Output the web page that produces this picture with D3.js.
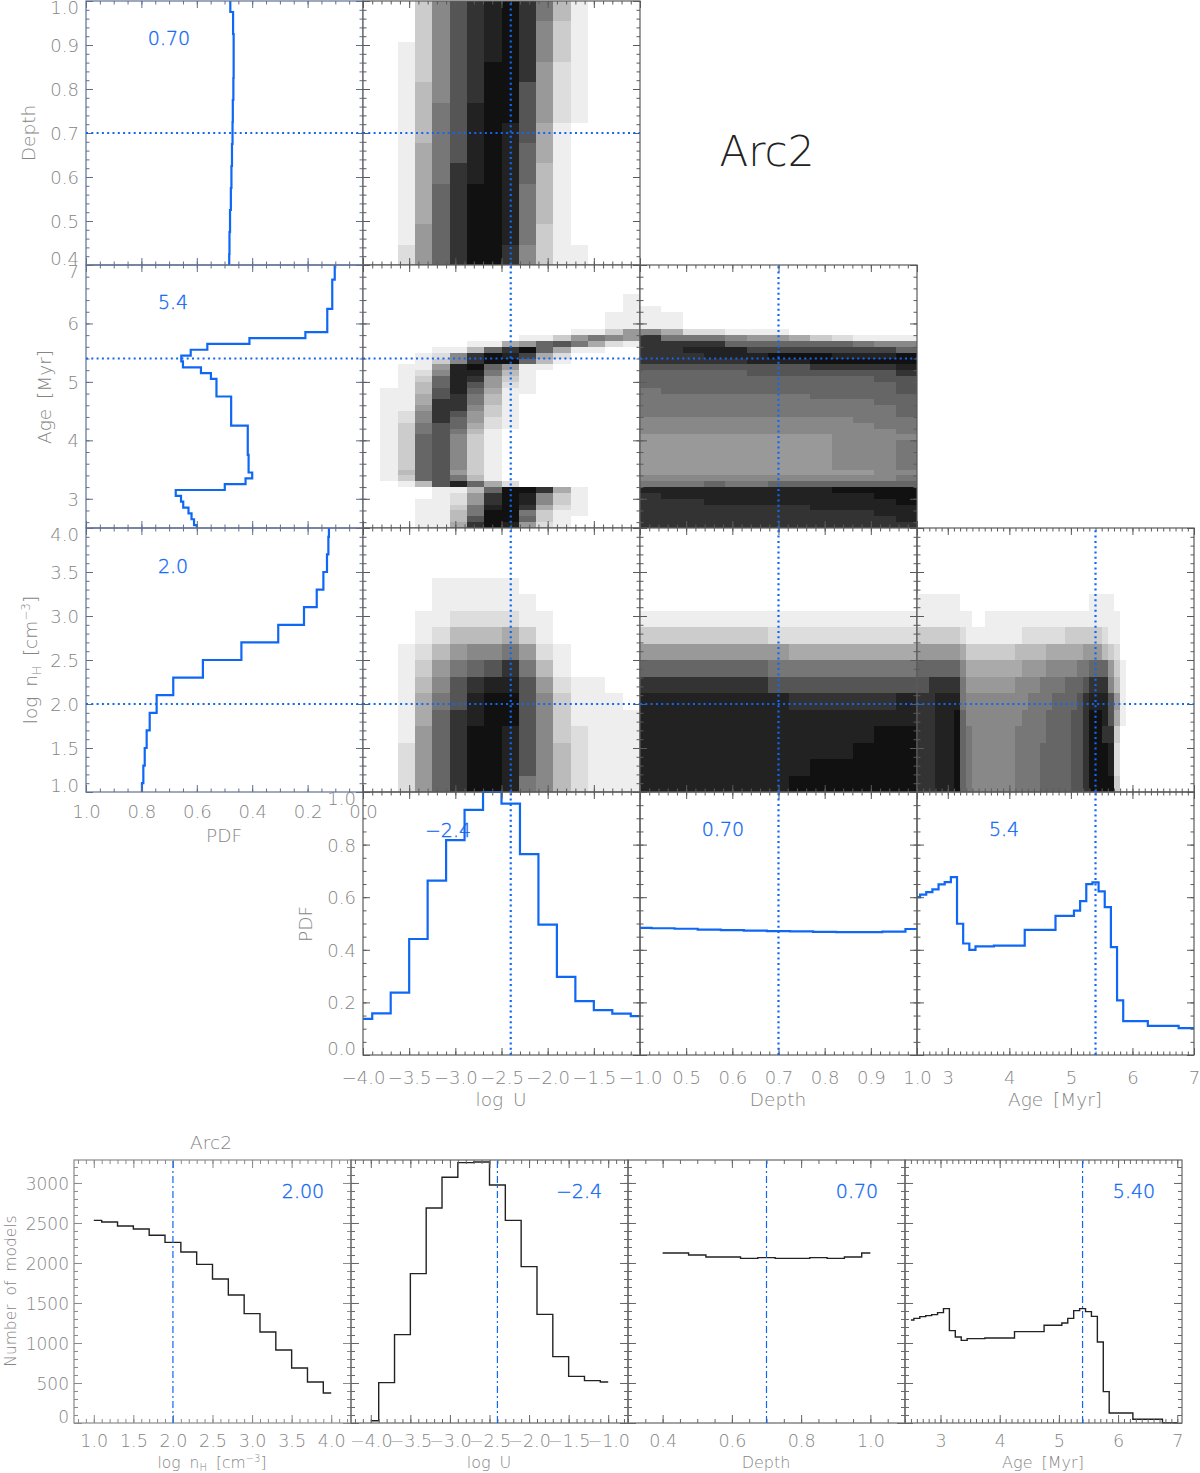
<!DOCTYPE html>
<html><head><meta charset="utf-8">
<script src="https://cdn.jsdelivr.net/npm/d3@7/dist/d3.min.js"></script>
<style>html,body{margin:0;background:#fff}svg{display:block}text{font-family:"DejaVu Sans",sans-serif;font-weight:200}</style>
</head><body><svg id="c" width="1200" height="1473"></svg>
<script>
// ---------- 1D grids ----------
const nHGrid=[1,1.2,1.4,1.6,1.8,2,2.2,2.4,2.6,2.8,3,3.2,3.4,3.6,3.8,4];
const logUGrid=[-4,-3.8,-3.6,-3.4,-3.2,-3,-2.8,-2.6,-2.4,-2.2,-2,-1.8,-1.6,-1.4,-1.2,-1];
const depthGrid=[.4,.45,.5,.55,.6,.65,.7,.75,.8,.85,.9,.95,1];
const ageGrid=[2.5,2.6,2.7,2.8,2.9,3,3.1,3.2,3.3,3.4,3.5,4,4.5,5,5.1,5.2,5.3,5.4,5.5,5.6,5.7,5.8,5.9,6,6.5,7];
// ---------- marginal PDFs ----------
const pdfNH=[.798,.793,.788,.781,.770,.745,.685,.578,.439,.306,.213,.167,.143,.130,.125,.123];
const pdfU=[.137,.158,.237,.441,.663,.817,.932,1,.956,.764,.496,.297,.205,.171,.157,.148];
const pdfDepth=[.483,.482,.480,.477,.475,.473,.471,.470,.468,.467,.467,.469,.479];
const pdfAge=[.600,.610,.619,.630,.649,.657,.676,.499,.424,.400,.413,.416,.476,.529,.549,.585,.650,.656,.622,.562,.410,.208,.129,.129,.111,.102];
// ---------- model counts ----------
const countNH=[2533,2512,2462,2425,2346,2258,2137,1983,1800,1600,1367,1137,912,687,512,375];
const countU=[29,504,1104,1867,2687,3071,3254,3262,2975,2533,1954,1358,829,583,529,512];
const countDepth=[2125,2125,2100,2075,2075,2058,2067,2058,2058,2067,2058,2075,2125];
const countAge=[1287,1308,1329,1342,1354,1379,1429,1154,1075,1033,1054,1062,1142,1221,1250,1308,1404,1429,1392,1333,1012,392,125,125,46,4];
// ---------- best values ----------
const bestNH=2.0, bestU=-2.4, bestDepth=0.7, bestAge=5.4;
// ---------- joint PDFs, levels 0 (white) to 14 (darkest); first row = top of the panel ----------
const depthLogU=[
[0,0,0,3,7,10,12,13,14,12,8,4,1,0,0,0],
[0,0,0,3,7,10,12,13,14,12,7,3,1,0,0,0],
[0,0,1,3,7,10,12,13,14,12,7,3,1,0,0,0],
[0,0,1,3,7,10,12,14,14,12,6,2,1,0,0,0],
[0,0,1,4,7,10,12,14,14,10,6,2,1,0,0,0],
[0,0,1,4,8,10,13,14,14,10,6,2,1,0,0,0],
[0,0,1,4,8,10,13,14,13,10,5,1,0,0,0,0],
[0,0,1,5,8,10,13,14,13,9,5,1,0,0,0,0],
[0,0,1,5,8,12,13,14,13,9,4,1,0,0,0,0],
[0,0,1,5,9,12,14,14,13,8,4,1,0,0,0,0],
[0,0,1,5,9,12,14,14,13,8,4,1,0,0,0,0],
[0,0,1,6,9,12,14,14,13,8,3,1,0,0,0,0],
[0,0,2,6,9,12,14,14,12,7,3,1,1,0,0,0]];
const ageLogU=[
[0,0,0,0,0,0,0,0,0,0,0,0,0,0,0,0],
[0,0,0,0,0,0,0,0,0,0,0,0,0,0,0,0],
[0,0,0,0,0,0,0,0,0,0,0,0,0,0,0,0],
[0,0,0,0,0,0,0,0,0,0,0,0,0,0,0,0],
[0,0,0,0,0,0,0,0,0,0,0,0,0,0,0,0],
[0,0,0,0,0,0,0,0,0,0,0,0,0,0,0,1],
[0,0,0,0,0,0,0,0,0,0,0,0,0,0,0,1],
[0,0,0,0,0,0,0,0,0,0,0,0,0,0,0,1],
[0,0,0,0,0,0,0,0,0,0,0,0,0,0,1,1],
[0,0,0,0,0,0,0,0,0,0,0,0,0,0,1,1],
[0,0,0,0,0,0,0,0,0,0,0,0,0,0,1,1],
[0,0,0,0,0,0,0,0,0,0,0,0,1,1,3,6],
[0,0,0,0,0,0,0,0,0,1,1,3,6,8,7,6],
[0,0,0,0,0,0,1,1,5,6,9,10,8,5,2,1],
[0,0,0,0,1,1,4,9,12,14,9,5,1,1,0,0],
[0,0,0,1,2,7,12,14,13,11,5,2,0,0,0,0],
[0,0,0,1,3,7,12,14,14,9,4,1,0,0,0,0],
[0,0,1,1,6,13,14,9,6,1,1,0,0,0,0,0],
[0,0,1,2,7,13,13,8,4,1,0,0,0,0,0,0],
[0,0,1,3,9,13,12,6,3,1,0,0,0,0,0,0],
[0,0,1,4,9,13,10,6,2,1,0,0,0,0,0,0],
[0,1,1,4,10,13,9,5,1,1,0,0,0,0,0,0],
[0,1,1,5,10,12,8,4,1,0,0,0,0,0,0,0],
[0,1,1,5,12,12,8,4,1,0,0,0,0,0,0,0],
[0,1,1,6,12,12,7,3,1,0,0,0,0,0,0,0],
[0,1,2,7,12,10,6,3,1,0,0,0,0,0,0,0],
[0,1,2,7,12,9,6,2,1,0,0,0,0,0,0,0],
[0,1,3,8,10,9,5,2,1,0,0,0,0,0,0,0],
[0,1,3,8,10,8,4,1,0,0,0,0,0,0,0,0],
[0,1,3,9,10,7,3,1,0,0,0,0,0,0,0,0],
[0,1,3,9,10,7,3,1,0,0,0,0,0,0,0,0],
[0,1,3,9,10,7,3,1,0,0,0,0,0,0,0,0],
[0,1,3,9,10,7,3,1,0,0,0,0,0,0,0,0],
[0,1,3,9,10,7,3,1,0,0,0,0,0,0,0,0],
[0,1,3,9,10,7,3,1,0,0,0,0,0,0,0,0],
[0,1,4,9,10,6,3,1,0,0,0,0,0,0,0,0],
[0,1,3,9,10,8,4,1,0,0,0,0,0,0,0,0],
[0,0,1,4,10,13,9,5,2,0,0,0,0,0,0,0],
[0,0,0,0,1,1,4,9,14,14,12,5,1,0,0,0],
[0,0,0,0,1,2,6,12,14,13,7,3,1,0,0,0],
[0,0,0,1,1,2,6,12,14,13,7,3,1,0,0,0],
[0,0,0,1,1,3,8,13,14,12,5,2,1,0,0,0],
[0,0,0,1,1,4,8,14,14,8,3,1,1,0,0,0],
[0,0,0,1,1,4,10,14,14,9,3,1,0,0,0,0],
[0,0,0,1,1,5,12,14,13,6,2,1,0,0,0,0]];
const ageDepth=[
[0,0,0,0,0,0,0,0,0,0,0,0,0],
[0,0,0,0,0,0,0,0,0,0,0,0,0],
[0,0,0,0,0,0,0,0,0,0,0,0,0],
[0,0,0,0,0,0,0,0,0,0,0,0,0],
[0,0,0,0,0,0,0,0,0,0,0,0,0],
[0,0,0,0,0,0,0,0,0,0,0,0,0],
[0,0,0,0,0,0,0,0,0,0,0,0,0],
[1,0,0,0,0,0,0,0,0,0,0,0,0],
[1,1,0,0,0,0,0,0,0,0,0,0,0],
[1,1,0,0,0,0,0,0,0,0,0,0,0],
[1,1,0,0,0,0,0,0,0,0,0,0,0],
[7,5,2,2,1,1,1,0,0,0,0,0,0],
[12,8,8,8,7,6,6,5,3,2,1,1,1],
[12,12,12,12,9,9,9,9,9,9,8,7,7],
[12,12,13,13,13,11,11,11,11,11,11,11,9],
[12,12,12,13,13,13,14,14,14,13,13,13,14],
[12,12,12,12,12,13,13,13,14,14,14,14,14],
[10,10,10,10,10,10,10,10,12,12,12,12,13],
[9,9,9,9,9,10,10,10,10,10,10,10,12],
[9,9,9,9,9,9,9,9,9,9,9,10,10],
[9,9,9,9,9,9,9,9,9,9,9,9,10],
[8,9,9,9,9,9,9,9,9,9,9,9,10],
[8,8,8,8,8,8,8,8,9,9,9,9,9],
[8,8,8,8,8,8,8,8,8,8,8,9,9],
[8,8,8,8,8,8,8,8,8,8,8,8,9],
[8,8,8,8,8,8,8,8,8,8,8,8,9],
[7,7,7,7,7,7,7,7,7,7,8,8,8],
[7,7,7,7,7,7,7,7,7,7,7,8,8],
[7,7,7,7,7,7,7,7,7,7,7,7,8],
[6,6,6,6,6,6,6,6,6,7,7,7,7],
[6,6,6,6,6,6,6,6,6,7,7,7,8],
[6,6,6,6,6,6,6,6,6,7,7,7,8],
[6,6,6,6,6,6,6,6,6,7,7,7,8],
[6,6,6,6,6,6,6,6,6,7,7,7,8],
[6,6,6,6,6,6,6,6,6,7,7,7,8],
[6,6,6,6,6,6,6,6,6,6,6,7,7],
[7,7,7,7,7,7,7,7,7,7,7,7,8],
[8,8,8,9,8,8,9,9,9,9,9,9,9],
[13,13,13,13,13,13,13,13,13,14,14,14,14],
[12,13,13,13,13,13,13,13,13,13,13,14,14],
[12,12,12,13,13,13,13,13,13,13,13,13,14],
[12,12,12,12,12,12,12,12,13,13,13,13,13],
[12,12,12,12,12,12,12,12,12,12,12,13,13],
[12,12,12,12,12,12,12,12,12,12,12,12,13],
[12,12,12,12,12,12,12,12,12,12,12,12,12]];
const nHLogU=[
[0,0,0,0,0,0,0,0,0,0,0,0,0,0,0,0],
[0,0,0,0,0,0,0,0,0,0,0,0,0,0,0,0],
[0,0,0,0,0,0,0,0,0,0,0,0,0,0,0,0],
[0,0,0,0,1,1,1,1,1,0,0,0,0,0,0,0],
[0,0,0,0,1,1,1,1,1,1,0,0,0,0,0,0],
[0,0,0,1,1,2,2,2,2,1,1,0,0,0,0,0],
[0,0,0,1,2,4,4,4,5,3,1,0,0,0,0,0],
[0,0,1,2,4,6,7,7,8,6,2,1,0,0,0,0],
[0,0,1,3,6,8,9,10,12,8,4,1,0,0,0,0],
[0,0,1,4,7,10,12,13,13,10,6,2,1,1,0,0],
[0,0,1,5,8,10,13,14,14,10,7,3,1,1,1,0],
[0,0,1,5,9,12,13,14,14,10,7,3,1,1,1,1],
[0,0,1,6,9,12,14,14,13,10,7,3,2,1,1,1],
[0,0,2,6,9,12,14,14,13,10,7,4,2,1,1,1],
[0,0,2,6,9,12,14,14,13,10,7,4,2,1,1,1],
[0,0,2,6,9,12,14,14,13,8,7,4,2,1,1,1]];
const nHDepth=[
[0,0,0,0,0,0,0,0,0,0,0,0,0],
[0,0,0,0,0,0,0,0,0,0,0,0,0],
[0,0,0,0,0,0,0,0,0,0,0,0,0],
[0,0,0,0,0,0,0,0,0,0,0,0,0],
[0,0,0,0,0,0,0,0,0,0,0,0,0],
[1,1,1,1,1,1,1,1,1,1,1,1,1],
[3,3,3,3,3,3,2,2,2,2,2,2,2],
[6,6,6,6,6,6,6,5,5,5,5,5,5],
[9,9,9,9,9,9,8,8,8,8,8,8,8],
[12,12,12,12,12,12,10,10,10,10,10,10,10],
[13,13,13,13,13,13,13,12,12,12,12,12,13],
[13,13,13,13,13,13,13,13,13,13,13,13,13],
[13,13,13,13,13,13,13,13,13,13,13,14,14],
[13,13,13,13,13,13,13,13,13,13,14,14,14],
[13,13,13,13,13,13,13,13,14,14,14,14,14],
[13,13,13,13,13,13,13,14,14,14,14,14,14]];
// runs of [upper age, level] along the age axis, rows from top to bottom
const nHAge=[[],[],[],[],
[[3.2,1],[5.3,0],[5.7,1]],
[[3.4,1],[3.6,0],[5.8,1]],
[[3.2,3],[3.3,2],[4.2,1],[4.9,2],[5.5,3],[5.6,2],[5.8,1]],
[[3.2,6],[3.3,5],[4.1,3],[4.6,4],[5.2,5],[5.5,6],[5.6,4],[5.7,3],[5.8,2]],
[[3.2,9],[3.3,7],[4.2,5],[4.6,6],[5.1,7],[5.3,8],[5.6,9],[5.7,6],[5.8,3],[5.9,1]],
[[2.7,10],[3.2,12],[3.3,8],[4.1,6],[4.5,7],[4.9,8],[5.2,9],[5.3,10],[5.6,12],[5.7,7],[5.8,4],[5.9,1]],
[[2.8,12],[3.2,13],[3.3,8],[4.3,7],[4.7,8],[5.1,9],[5.2,10],[5.3,12],[5.6,13],[5.7,10],[5.8,6],[5.9,1]],
[[2.8,12],[3.1,13],[3.2,14],[3.3,9],[4.2,7],[4.6,8],[5.0,9],[5.2,10],[5.3,12],[5.5,14],[5.6,13],[5.7,10],[5.8,5],[5.9,1]],
[[2.8,12],[3.1,13],[3.2,14],[3.3,9],[3.4,8],[4.1,7],[4.6,8],[5.0,9],[5.2,10],[5.3,12],[5.5,14],[5.7,12],[5.8,3]],
[[2.8,12],[3.1,13],[3.2,14],[3.3,9],[3.4,8],[4.1,7],[4.5,8],[5.0,9],[5.2,10],[5.3,12],[5.6,14],[5.7,13],[5.8,2]],
[[2.8,12],[3.1,13],[3.2,14],[3.3,9],[3.4,8],[4.1,7],[4.5,8],[5.0,9],[5.2,10],[5.3,12],[5.6,14],[5.7,13],[5.8,2]],
[[2.8,12],[3.1,13],[3.2,14],[3.3,9],[3.4,8],[4.1,7],[4.5,8],[5.0,9],[5.2,10],[5.3,12],[5.7,14],[5.8,3]]];

// ---------- layout and styles ----------
const BLUE="#0f68f5",GREY="#858585",LINE="#5a5a5a",SLATE="#5f6f90";
const FS=18;
const cols=[[86,363],[363,640],[640,917],[917,1194]];
const rows=[[1,265],[265,528],[528,792],[792,1055]];
const svg=d3.select("#c");
const gray=d3.scaleLinear().domain([0,14]).range([255,17]);
const levelColor=v=>{const g=Math.round(gray(v));return `rgb(${g},${g},${g})`;};
const seq=(a,b,s)=>d3.range(Math.round((b-a)/s+1)).map(i=>+(a+i*s).toFixed(6));
const AX={
 depth:{dom:[.4,1],maj:seq(.4,1,.1),min:seq(.4,1,.02),f:d3.format(".1f")},
 age:{dom:[2.5,7],maj:[3,4,5,6,7],min:seq(2.5,7,.1),minY:seq(2.6,7,.2),f:d3.format("d")},
 nH:{dom:[1,4],maj:seq(1,4,.5),min:seq(1,4,.1),f:d3.format(".1f")},
 logU:{dom:[-4,-1],maj:seq(-4,-1,.5),min:seq(-4,-1,.1),f:d3.format(".1f")},
 pdf:{dom:[0,1],maj:seq(0,1,.2),min:seq(0,1,.05),f:d3.format(".1f")}
};
function steps(c,v){ // bin edges midway between grid values
 const p=[];
 c.forEach((d,i)=>{
  const a=i?(c[i-1]+d)/2:d, b=i<c.length-1?(d+c[i+1])/2:d;
  p.push([a,v[i]],[b,v[i]]);
 });
 return p;
}
function ticks(g,x,y,xT,yT,color,maj,min){
 const [x0,x1]=x.range(),[y0,y1]=y.range();
 const place=(gen,tx,ty,vals,len)=>{
  const a=g.append("g").attr("transform",`translate(${tx},${ty})`).call(gen.tickValues(vals).tickSize(-len).tickFormat(""));
  a.select(".domain").remove();
  a.selectAll("line").attr("stroke",color).attr("stroke-width",1);
 };
 [[xT.maj,maj],[xT.min,min]].forEach(([v,l])=>{
  place(d3.axisBottom(x),0,y0,v,l); place(d3.axisTop(x),0,y1,v,l);
 });
 [[yT.maj,maj],[yT.minY||yT.min,min]].forEach(([v,l])=>{
  place(d3.axisLeft(y),x0,0,v,l); place(d3.axisRight(y),x1,0,v,l);
 });
 g.append("rect").attr("x",x0).attr("y",y1).attr("width",x1-x0).attr("height",y0-y1)
  .attr("fill","none").attr("stroke",color).attr("stroke-width",1.2);
}
function styleLab(a,size){
 a.select(".domain").remove(); a.selectAll("line").remove();
 a.selectAll("text").attr("fill",GREY).attr("font-size",size||FS);
}
function panel(r,c,xKey,yKey){
 const xD=AX[xKey],yD=AX[yKey];
 const x=d3.scaleLinear().domain(xKey==="pdf"?[1,0]:xD.dom).range(cols[c]);
 const y=d3.scaleLinear().domain(yD.dom).range([rows[r][1],rows[r][0]]);
 return {x,y,g:svg.append("g"),xD,yD,r,c};
}
function heat(p,data,xDom,yDom){
 const rowsN=data.length,colsN=data[0].length;
 const xb=d3.scaleLinear().domain([0,colsN]).range(xDom);
 const yb=d3.scaleLinear().domain([0,rowsN]).range(yDom);
 data.forEach((row,j)=>p.g.append("g").selectAll("rect").data(row).join("rect")
  .attr("x",(d,k)=>p.x(xb(k))).attr("y",p.y(yb(j)))
  .attr("width",(d,k)=>p.x(xb(k+1))-p.x(xb(k))).attr("height",p.y(yb(j+1))-p.y(yb(j)))
  .attr("fill",levelColor).attr("shape-rendering","crispEdges"));
}
function heatRuns(p,data,xStart,yDom){
 const yb=d3.scaleLinear().domain([0,data.length]).range(yDom);
 data.forEach((row,j)=>{
  let prev=xStart;
  row.forEach(([end,lev])=>{
   p.g.append("rect").attr("x",p.x(prev)).attr("y",p.y(yb(j))).attr("width",p.x(end)-p.x(prev))
    .attr("height",p.y(yb(j+1))-p.y(yb(j))).attr("fill",levelColor(lev)).attr("shape-rendering","crispEdges");
   prev=end;
  });
 });
}
function cross(p,vx,vy){
 const [x0,x1]=p.x.range(),[y0,y1]=p.y.range();
 const st=s=>s.attr("stroke",BLUE).attr("stroke-width",2.2).attr("stroke-dasharray","2 3.3");
 if(vy!=null)st(p.g.append("line").attr("x1",x0).attr("x2",x1).attr("y1",p.y(vy)).attr("y2",p.y(vy)));
 if(vx!=null)st(p.g.append("line").attr("x1",p.x(vx)).attr("x2",p.x(vx)).attr("y1",y0).attr("y2",y1));
}
const blueStep=(p,pts,fx,fy)=>p.g.append("path").attr("d",d3.line().x(fx).y(fy)(pts))
  .attr("fill","none").attr("stroke",BLUE).attr("stroke-width",2.2).attr("stroke-linejoin","miter");
const blueText=(x,y,t)=>svg.append("text").attr("x",x).attr("y",y).attr("text-anchor","middle")
  .attr("font-size",19).attr("fill",BLUE).attr("stroke",BLUE).attr("stroke-width",.35).text(t);
const greyText=(x,y,t,rot,size)=>{const s=svg.append("text").attr("text-anchor","middle").attr("font-size",size||18.5).attr("fill",GREY)
  .attr("word-spacing",4).attr("transform",`translate(${x},${y})${rot?" rotate(-90)":""}`);if(t)s.text(t);return s;};
function nHTitle(x,y,rot,size){
 const s=greyText(x,y,null,rot,size), k=(size||18.5)/18.5;
 s.append("tspan").text("log n");
 s.append("tspan").attr("font-size",12*k).attr("dy",4*k).text("H");
 s.append("tspan").attr("dy",-4*k).text(" [cm");
 s.append("tspan").attr("font-size",12*k).attr("dy",-7*k).text("−3");
 s.append("tspan").attr("dy",7*k).text("]");
}

// ---------- corner plot ----------
const P={};
const layout=[[0,0,"pdf","depth"],[0,1,"logU","depth"],
 [1,0,"pdf","age"],[1,1,"logU","age"],[1,2,"depth","age"],
 [2,0,"pdf","nH"],[2,1,"logU","nH"],[2,2,"depth","nH"],[2,3,"age","nH"],
 [3,1,"logU","pdf"],[3,2,"depth","pdf"],[3,3,"age","pdf"]];
layout.forEach(([r,c,a,b])=>P[r+"_"+c]=panel(r,c,a,b));
// heat maps
heat(P["0_1"],depthLogU,[-4,-1],[1,.4]);
heat(P["1_1"],ageLogU,[-4,-1],[7,2.5]);
heat(P["1_2"],ageDepth,[.4,1],[7,2.5]);
heat(P["2_1"],nHLogU,[-4,-1],[4,1]);
heat(P["2_2"],nHDepth,[.4,1],[4,1]);
heatRuns(P["2_3"],nHAge,2.5,[4,1]);
// left column curves
const leftCurve=(p,c,v)=>blueStep(p,steps(c,v),d=>p.x(d[1]),d=>p.y(d[0]));
leftCurve(P["0_0"],depthGrid,pdfDepth);
leftCurve(P["1_0"],ageGrid,pdfAge);
leftCurve(P["2_0"],nHGrid,pdfNH);
// bottom row curves
const botCurve=(p,c,v)=>blueStep(p,steps(c,v),d=>p.x(d[0]),d=>p.y(d[1]));
botCurve(P["3_1"],logUGrid,pdfU);
botCurve(P["3_2"],depthGrid,pdfDepth);
botCurve(P["3_3"],ageGrid,pdfAge);
// frames and ticks
layout.forEach(([r,c])=>{const p=P[r+"_"+c];
 ticks(p.g,p.x,p.y,p.xD,p.yD,c===0?SLATE:LINE,7,3.5);});
// crosshairs
cross(P["0_0"],null,bestDepth);cross(P["0_1"],bestU,bestDepth);
cross(P["1_0"],null,bestAge);cross(P["1_1"],bestU,bestAge);cross(P["1_2"],bestDepth,bestAge);
cross(P["2_0"],null,bestNH);cross(P["2_1"],bestU,bestNH);cross(P["2_2"],bestDepth,bestNH);cross(P["2_3"],bestAge,bestNH);
cross(P["3_1"],bestU,null);cross(P["3_2"],bestDepth,null);cross(P["3_3"],bestAge,null);
// y tick labels
function yLabels(p,vals,hi,lo){
 const a=svg.append("g").attr("transform",`translate(${p.x.range()[0]},0)`)
  .call(d3.axisLeft(p.y).tickValues(vals).tickSize(0).tickPadding(7).tickFormat(p.yD.f));
 styleLab(a);
 a.selectAll("text").attr("dy",d=>d===hi?"0.72em":d===lo?"-0.05em":"0.36em");
}
yLabels(P["0_0"],AX.depth.maj,1,.4);
yLabels(P["1_0"],AX.age.maj,7,null);
yLabels(P["2_0"],AX.nH.maj,4,1);
yLabels(P["3_1"],AX.pdf.maj,1,0);
// x tick labels
function xLabels(p,vals,pad){
 const a=svg.append("g").attr("transform",`translate(0,${p.y.range()[0]})`)
  .call(d3.axisBottom(p.x).tickValues(vals).tickSize(0).tickPadding(pad).tickFormat(p.xD.f));
 styleLab(a);
}
xLabels(P["2_0"],AX.pdf.maj,13);
xLabels(P["3_1"],AX.logU.maj,16);
xLabels(P["3_2"],seq(.5,1,.1),16);
xLabels(P["3_3"],AX.age.maj,16);
// axis titles
greyText(35,133,"Depth",true);
greyText(51,397,"Age [Myr]",true);
nHTitle(37,660,true);
greyText(224,842,"PDF");
greyText(312,924,"PDF",true);
greyText(501,1106,"log U");
greyText(778,1106,"Depth");
greyText(1055,1106,"Age [Myr]");
blueText(169,45,"0.70");blueText(173,309,"5.4");blueText(173,573,"2.0");
blueText(448,837,"−2.4");blueText(723,836,"0.70");blueText(1004,836,"5.4");
svg.append("text").attr("x",767).attr("y",166).attr("text-anchor","middle").attr("font-size",42)
 .attr("fill","#222").text("Arc2");

// ---------- model-count histograms ----------
const hx=[[74,351],[351,628],[628,905],[905,1182]];
const hy=d3.scaleLinear().domain([0,3287]).range([1423,1160]);
const H=[
 {dom:[.75,4.25],maj:AX.nH.maj,min:seq(.8,4.2,.1),f:d3.format(".1f"),c:nHGrid,v:countNH,best:bestNH,txt:"2.00",tx:303},
 {dom:[-4.25,-.75],maj:AX.logU.maj,min:seq(-4.2,-.8,.1),f:d3.format(".1f"),c:logUGrid,v:countU,best:bestU,txt:"−2.4",tx:579},
 {dom:[.3,1.1],maj:[.4,.6,.8,1],min:seq(.3,1.1,.05),f:d3.format(".1f"),c:depthGrid,v:countDepth,best:bestDepth,txt:"0.70",tx:857},
 {dom:[2.4,7.08],maj:[3,4,5,6,7],min:seq(2.4,7,.1),f:d3.format("d"),c:ageGrid,v:countAge,best:bestAge,txt:"5.40",tx:1134}];
const yT={maj:seq(0,3000,500),min:seq(0,3200,100)};
H.forEach((h,i)=>{
 const x=d3.scaleLinear().domain(h.dom).range(hx[i]);
 const g=svg.append("g");
 g.append("path").attr("d",d3.line().x(d=>x(d[0])).y(d=>hy(d[1]))(steps(h.c,h.v)))
  .attr("fill","none").attr("stroke","#222").attr("stroke-width",1.4);
 ticks(g,x,hy,{maj:h.maj,min:h.min},yT,i===0?"#8a8a8a":"#666",8,4);
 g.append("line").attr("x1",x(h.best)).attr("x2",x(h.best)).attr("y1",hy.range()[0]).attr("y2",hy.range()[1])
  .attr("stroke",BLUE).attr("stroke-width",1.2).attr("stroke-dasharray","7 3 2 3");
 const a=svg.append("g").attr("transform",`translate(0,${hy.range()[0]})`)
  .call(d3.axisBottom(x).tickValues(h.maj).tickSize(0).tickPadding(12).tickFormat(h.f));
 styleLab(a,17.5);
 blueText(h.tx,1198,h.txt);
});
const yl=svg.append("g").attr("transform",`translate(74,0)`)
 .call(d3.axisLeft(hy).tickValues(yT.maj).tickSize(0).tickPadding(5).tickFormat(d3.format("d")));
styleLab(yl,17);
yl.selectAll("text").attr("dy",d=>d===0?"-0.05em":"0.36em");
greyText(211,1149,"Arc2");
greyText(16,1291,"Number of models",true,15.5);
nHTitle(212,1468,false,15.5);
greyText(489,1468,"log U",false,16);
greyText(766,1468,"Depth",false,16);
greyText(1043,1468,"Age [Myr]",false,16);
</script></body></html>
